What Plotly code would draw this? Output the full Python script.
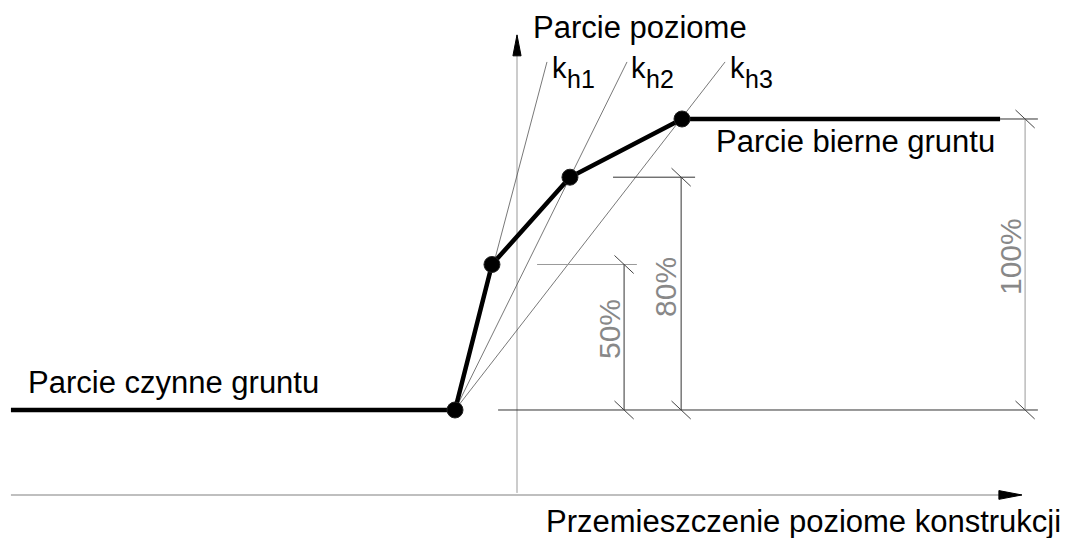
import plotly.graph_objects as go

# displacement (arbitrary units, 0 = vertical axis) and pressure (% of passive range)
curve_disp = [-173.9, -21.3, -8.6, 18.2, 56.7, 166.0]
curve_pres = [0, 0, 50, 80, 100, 100]
point_idx = [1, 2, 3, 4]

k_subs = ["h1", "h2", "h3"]
k_top_disp = [10.3, 37.8, 71.5]
k_top_pres = 119.6
k_label_disp = [11.3, 38.5, 72.5]
k_sub_disp = [16.5, 43.6, 77.7]

axis_x = [-173.9, 173.5]
axis_x_level = -29.2
axis_y = [-28.5, 128.9]

dim_labels = ["50%", "80%", "100%"]
dim_pos = [36.8, 56.4, 174.6]
dim_top = [50, 80, 100]
dim_ext_from = [6.9, 33.0, 166.0]
dim_ext_to = [41.2, 61.2, 179.0]
dim_text_x = [31.6, 51.2, 169.4]
dim_text_y = [27.8, 42.3, 52.9]
base_from, base_to = -6.5, 179.0

FONT = "Liberation Sans, Arial, sans-serif"
DIM_FONT = "Liberation Sans Narrow, Liberation Sans, sans-serif"


def line(fig, xs, ys, color="#333", width=1):
    fig.add_trace(go.Scatter(x=xs, y=ys, mode="lines", hoverinfo="skip",
                             line=dict(color=color, width=width)))


def arrow_head(fig, tip, along, length, half):
    x0, y0 = tip
    if along == "x":
        xs = [x0, x0 - length, x0 - length, x0]
        ys = [y0, y0 + half, y0 - half, y0]
    else:
        xs = [x0, x0 - half, x0 + half, x0]
        ys = [y0, y0 - length, y0 - length, y0]
    fig.add_trace(go.Scatter(x=xs, y=ys, mode="lines", fill="toself",
                             fillcolor="black", line=dict(color="black", width=1),
                             hoverinfo="skip"))


def text(fig, x, y, s, size=31, color="black", family=FONT, angle=0, xanchor="center"):
    fig.add_annotation(x=x, y=y, text=s, showarrow=False, xanchor=xanchor,
                       yanchor="middle", textangle=angle,
                       font=dict(family=family, size=size, color=color))


fig = go.Figure()

# axes
line(fig, axis_x, [axis_x_level, axis_x_level], color="#aaa", width=1.5)
line(fig, [0, 0], axis_y, color="#999", width=1)
arrow_head(fig, (axis_x[1], axis_x_level), "x", 7.9, 1.5)
arrow_head(fig, (0, axis_y[1]), "y", 7.2, 1.4)

# k lines from first point
p1x, p1y = curve_disp[1], curve_pres[1]
for kx in k_top_disp:
    line(fig, [p1x, kx], [p1y, k_top_pres], color="#555", width=0.8)

# dimension lines
line(fig, [base_from, base_to], [0, 0], color="#333", width=1)
ext_colors = ["#999", "#333", "#333"]
dim_colors = ["#333", "#333", "#999"]
for i in range(3):
    line(fig, [dim_ext_from[i], dim_ext_to[i]], [dim_top[i]] * 2, color=ext_colors[i])
    line(fig, [dim_pos[i]] * 2, [0, dim_top[i]], color=dim_colors[i])
    tx, ty = [], []
    for yv in (0, dim_top[i]):
        tx += [dim_pos[i] - 3.3, dim_pos[i] + 3.3, None]
        ty += [yv + 3.1, yv - 3.1, None]
    line(fig, tx, ty, color="#444", width=1)
    text(fig, dim_text_x[i], dim_text_y[i], dim_labels[i], size=30,
         color="#888", family=DIM_FONT, angle=-90)

# main curve
line(fig, curve_disp, curve_pres, color="black", width=4.5)
fig.add_trace(go.Scatter(
    x=[curve_disp[i] for i in point_idx], y=[curve_pres[i] for i in point_idx],
    mode="markers", hoverinfo="skip",
    marker=dict(color="black", size=16, line=dict(color="#222", width=1))))

# labels
text(fig, 42.1, 131.4, "Parcie poziome")
text(fig, 116.2, 92.2, "Parcie bierne gruntu")
text(fig, -117.9, 9.4, "Parcie czynne gruntu")
text(fig, 98.5, -38.2, "Przemieszczenie poziome konstrukcji")
for sub, kx, sx in zip(k_subs, k_label_disp, k_sub_disp):
    text(fig, kx, 117.5, "k", size=29, xanchor="left")
    text(fig, sx, 113.8, sub, size=25, xanchor="left")

fig.update_layout(
    width=1075, height=538, margin=dict(l=0, r=0, t=0, b=0),
    paper_bgcolor="white", plot_bgcolor="white", showlegend=False,
    xaxis=dict(range=[-177.66, 191.75], visible=False, fixedrange=True),
    yaxis=dict(range=[-43.99, 140.89], visible=False, fixedrange=True),
)

fig.write_html("out.html", config={"displayModeBar": False},
               post_script="document.body.style.margin='0';")
